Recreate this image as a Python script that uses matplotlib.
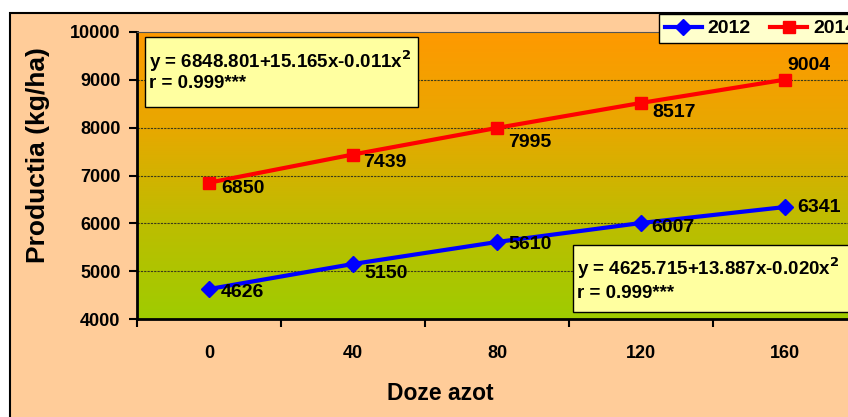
import numpy as np
import matplotlib
matplotlib.use("Agg")
import matplotlib.pyplot as plt
from matplotlib.patches import Rectangle
from matplotlib.colors import LinearSegmentedColormap

# ---- data ----
doses = ["0", "40", "80", "120", "160"]
y2012 = [4626, 5150, 5610, 6007, 6341]
y2014 = [6850, 7439, 7995, 8517, 9004]
eq2014 = ["y = 6848.801+15.165x-0.011x$^{2}$", "r = 0.999***"]
eq2012 = ["y = 4625.715+13.887x-0.020x$^{2}$", "r = 0.999***"]
yticks = [4000, 5000, 6000, 7000, 8000, 9000, 10000]

# label offsets (pixels, y up)
off2012 = [(12, -3), (11, -10), (11, -3), (10, -5), (12, 0)]
off2014 = [(12, -6), (10, -8), (11, -15), (11, -10), (2, 14)]

W, H = 848, 417
plt.rcParams['font.family'] = ['Liberation Sans', 'DejaVu Sans']
plt.rcParams['font.weight'] = 'bold'
plt.rcParams['mathtext.default'] = 'bf'
fig = plt.figure(figsize=(W / 100, H / 100), dpi=100)
fig.patch.set_facecolor('white')

def fx(px):
    return px / W

def fy(py):
    return 1 - py / H

# outer chart area
fig.patches.append(Rectangle((fx(10), -0.1), 1.2, fy(13) + 0.1, transform=fig.transFigure,
                             facecolor='#FFCC99', edgecolor='black', lw=1.5, zorder=-5))

ax = fig.add_axes([fx(137), fy(319), (857 - 137) / W, (319 - 32) / H])
ax.set_zorder(1)
x = np.arange(len(doses))

# gradient background
cmap = LinearSegmentedColormap.from_list('g', ['#9FCC00', '#BDBD00', '#E8A800', '#FF9900'])
grad = np.linspace(0, 1, 256).reshape(-1, 1)
ax.imshow(grad, aspect='auto', cmap=cmap, origin='lower',
          extent=[-0.5, 4.5, 4000, 10000], zorder=0)

ax.set_xlim(-0.5, 4.5)
ax.set_ylim(4000, 10000)

for yv in yticks[1:-1]:
    ax.axhline(yv, color='#3a3a1a', lw=0.8, ls=(0, (2, 1)), zorder=1)

l1, = ax.plot(x, y2012, color='#0000FF', lw=3, marker='D', ms=8.5, zorder=3, label='2012')
l2, = ax.plot(x, y2014, color='#FF0000', lw=3, marker='s', ms=8.5, zorder=3, label='2014')

for xi, v, (dx, dy) in zip(x, y2012, off2012):
    ax.annotate(str(v), (xi, v), xytext=(dx * 0.72, dy * 0.72), textcoords='offset points',
                ha='left', va='center', fontsize=14, fontweight='bold', zorder=4)
for xi, v, (dx, dy) in zip(x, y2014, off2014):
    ax.annotate(str(v), (xi, v), xytext=(dx * 0.72, dy * 0.72), textcoords='offset points',
                ha='left', va='center', fontsize=14, fontweight='bold', zorder=4)

ax.set_yticks(yticks)
ax.set_yticklabels([str(t) for t in yticks], fontsize=13, fontweight='bold')
ax.set_xticks(x)
ax.set_xticklabels(doses, fontsize=13, fontweight='bold')
ax.set_xticks(np.arange(-0.5, 5, 1), minor=True)
ax.tick_params(axis='x', which='major', length=0, pad=19)
ax.tick_params(axis='x', which='minor', length=6, width=1.5, direction='out')
ax.tick_params(axis='y', length=6, width=1.5, direction='out', pad=6)

for s in ['left', 'bottom']:
    ax.spines[s].set_linewidth(2)
ax.spines['top'].set_linewidth(0.8)
ax.spines['top'].set_color('#555555')
ax.spines['right'].set_visible(False)

fig.text(fx(38), fy(155), 'Productia (kg/ha)', rotation=90, ha='center', va='center',
         fontsize=19, fontweight='bold')
fig.text(fx(440), fy(393), 'Doze azot', ha='center', va='center', fontsize=16.5, fontweight='bold')

# equation boxes
def eqbox(x0, y0, x1, y1, lines, ys):
    fig.patches.append(Rectangle((fx(x0), fy(y1)), fx(x1) - fx(x0), fy(y0) - fy(y1),
                                 transform=fig.transFigure, facecolor='#FFFFA0',
                                 edgecolor='black', lw=1, zorder=5))
    for t, yy in zip(lines, ys):
        fig.text(fx(x0 + 4), fy(yy), t, ha='left', va='center', fontsize=13.5,
                 fontweight='bold', zorder=6)

eqbox(145, 37, 418, 107, eq2014, [61, 84])
eqbox(573, 245, 900, 312, eq2012, [268, 293])

leg = fig.legend(handles=[l1, l2], loc='upper left', bbox_to_anchor=(fx(659), fy(14)),
                 ncol=2, frameon=True, fancybox=False, edgecolor='black', facecolor='#FFFFCC',
                 framealpha=1, prop={'weight': 'bold', 'size': 14}, borderaxespad=0,
                 handlelength=1.9, columnspacing=1.0, borderpad=0.3, handletextpad=0.3)
leg.get_frame().set_linewidth(1)
leg.set_zorder(10)

fig.savefig('out.png', dpi=100, facecolor='white')
